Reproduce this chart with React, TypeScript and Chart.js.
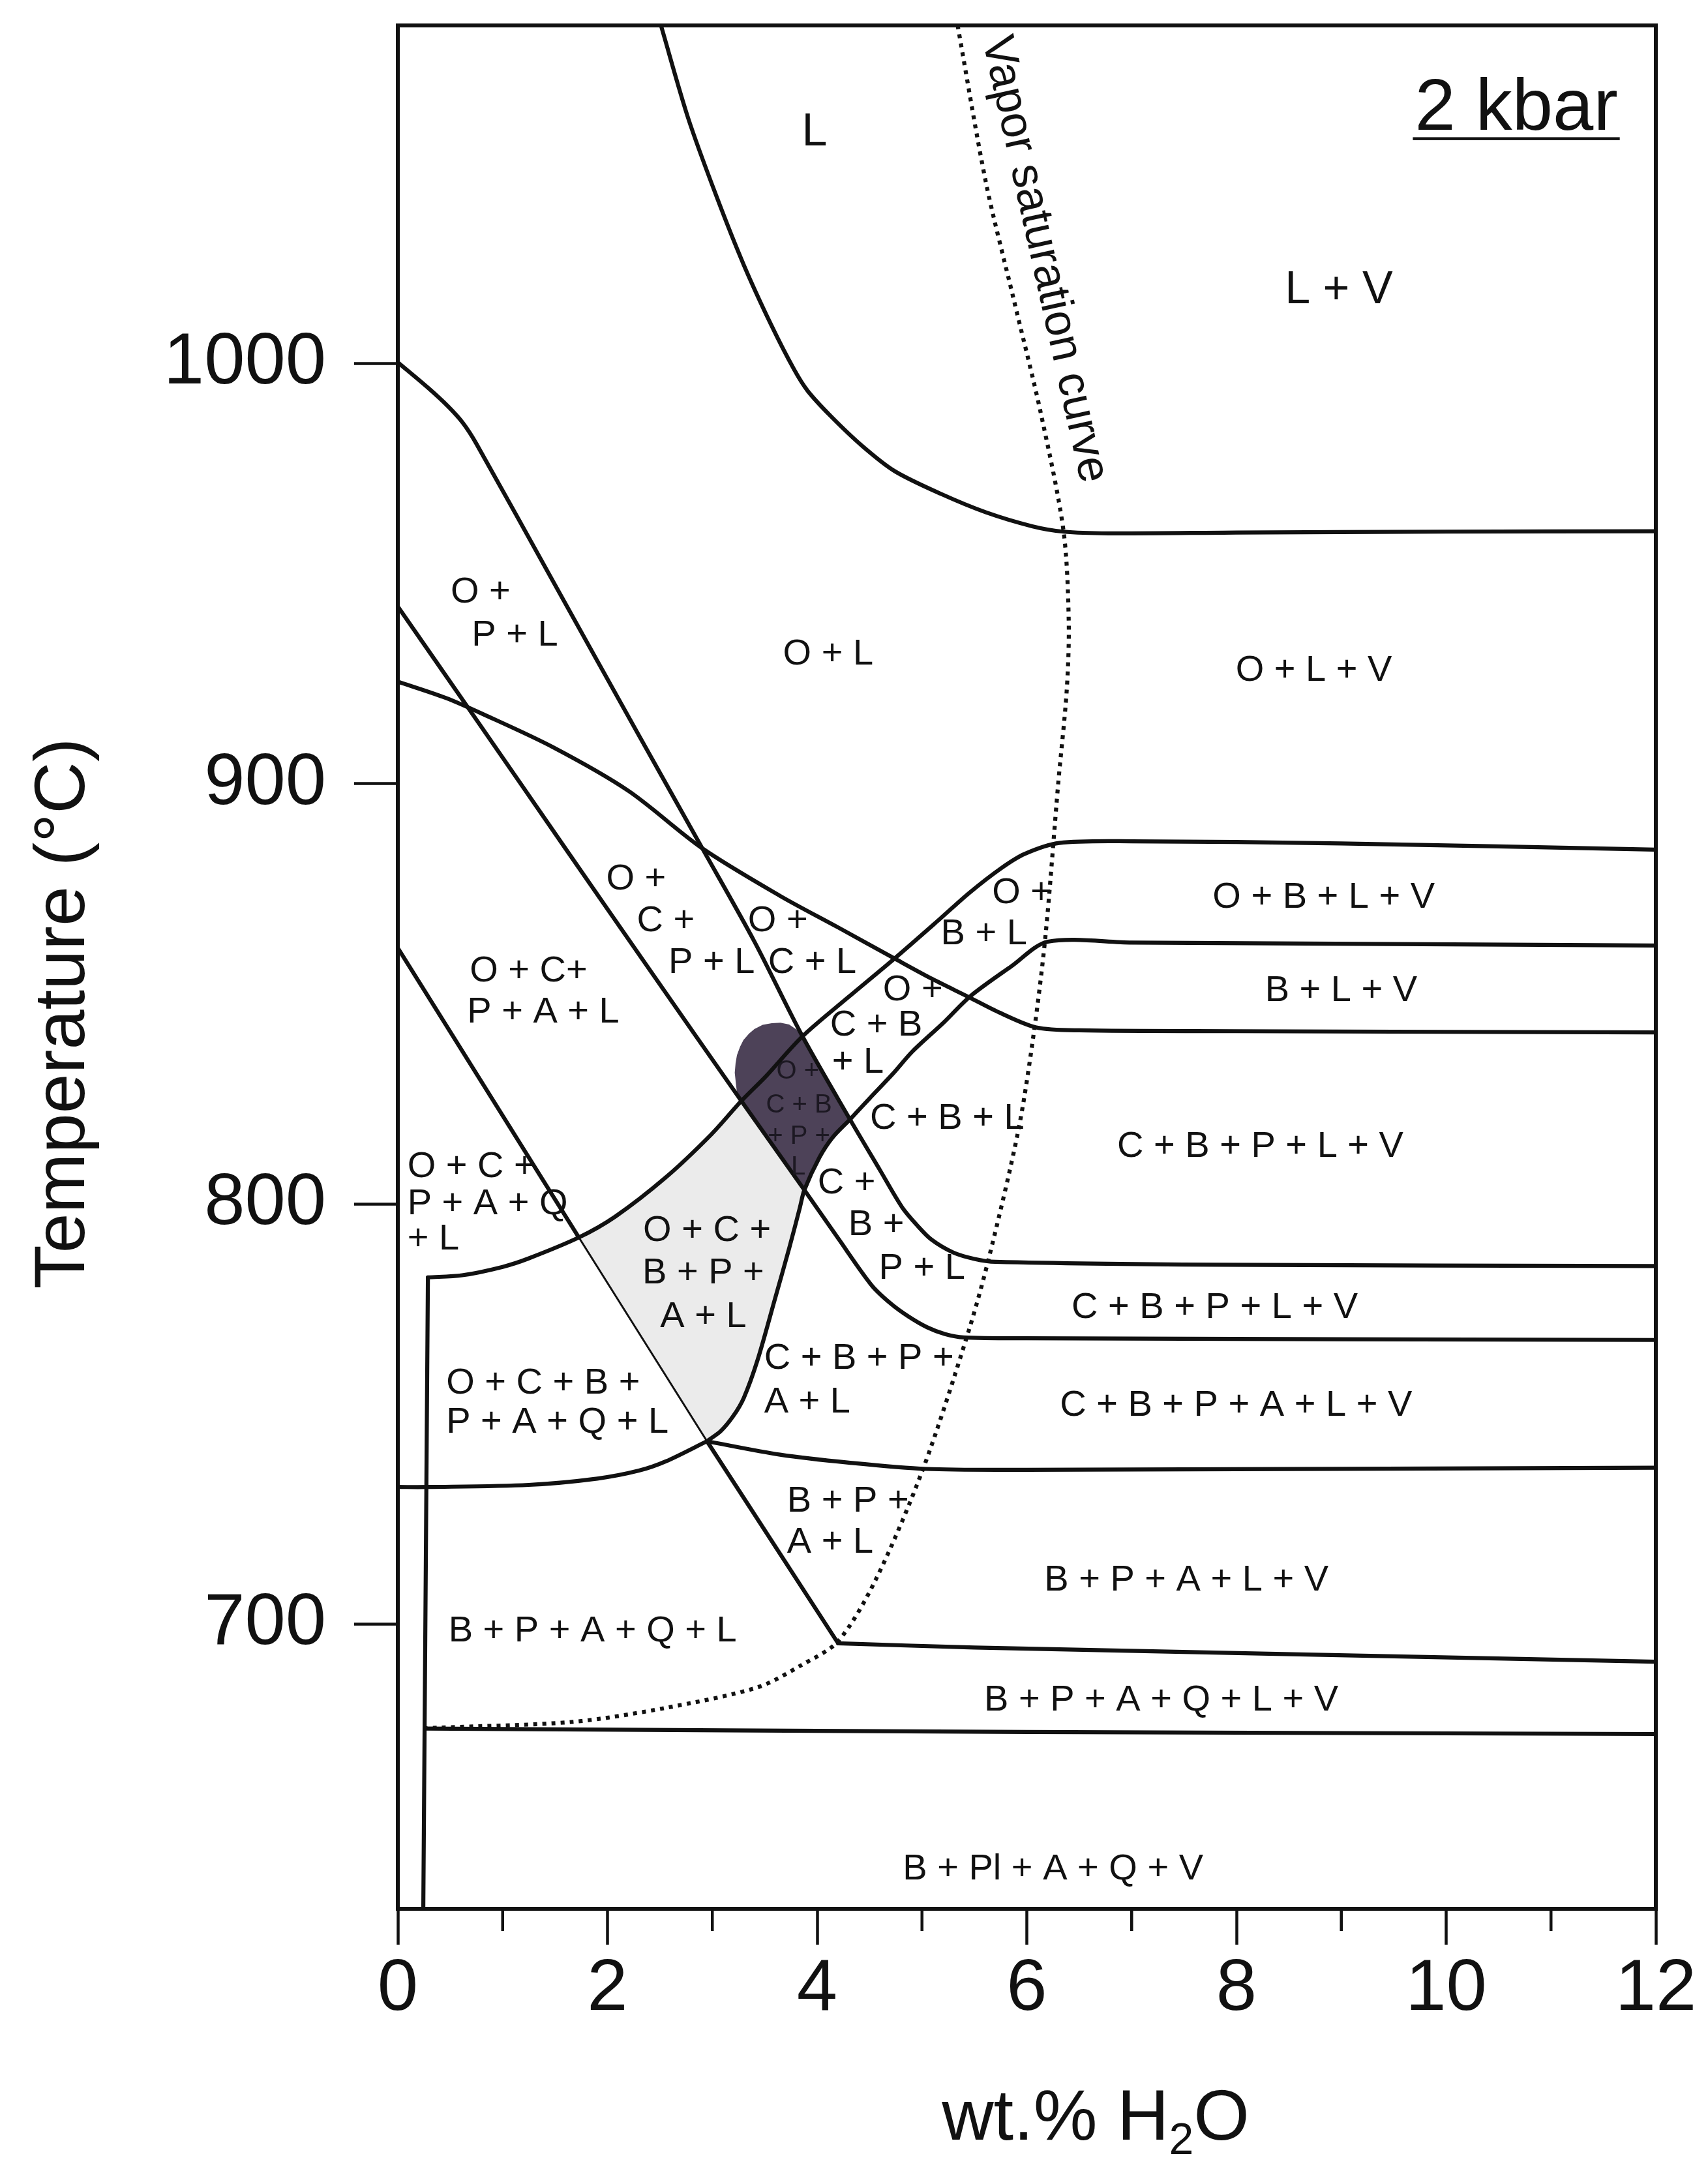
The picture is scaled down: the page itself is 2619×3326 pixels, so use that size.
import React, { useEffect, useRef } from 'react';
import { Chart, registerables } from 'chart.js';

Chart.register(...registerables);

type P = [number, number];

// ---------- axes ----------
const X_MIN = 0;
const X_MAX = 12;
const Y_MIN = 632.2;
const Y_MAX = 1080.5;
const X_TICKS = [0, 2, 4, 6, 8, 10, 12];
const X_MINOR_TICKS = [1, 3, 5, 7, 9, 11];
const Y_TICKS = [700, 800, 900, 1000];

// ---------- phase boundaries (wt.% H2O, °C) ----------
const LIQUIDUS: P[] = [[2.51, 1080.5], [2.77, 1058.4], [3.04, 1039.8], [3.30, 1023.5], [3.56, 1009.3], [3.78, 998.6], [3.91, 993.5], [4.13, 987.5], [4.43, 980.4], [4.74, 974.4], [5.18, 969.0], [5.61, 964.6], [6.05, 961.3], [6.35, 960.0], [6.78, 959.6], [8.0, 959.8], [10.0, 960.0], [12.0, 960.1]];
const VAPOR_SATURATION: P[] = [[5.34, 1080.5], [5.61, 1043.1], [5.87, 1015.8], [6.13, 988.6], [6.35, 960.2], [6.40, 938.4], [6.38, 922.0], [6.30, 900.2], [6.18, 864.3], [6.07, 841.3], [5.92, 817.6], [5.63, 786.3], [5.43, 768.5], [5.01, 736.9], [4.56, 710.6], [4.20, 695.9], [3.85, 690.2], [3.43, 684.9], [2.55, 680.0], [1.67, 676.7], [0.37, 675.3], [0.27, 675.2]];
const LINE_A: P[] = [[0, 1000.3], [0.29, 994.2], [0.48, 989.8], [0.62, 985.9], [0.75, 980.9], [1.5, 947.3], [2.3, 911.5], [2.905, 884.6], [3.4, 862.5], [3.857, 840.0], [4.313, 820.1], [4.6, 808.0], [4.81, 799.2], [4.95, 795.0], [5.09, 791.5], [5.3, 788.4], [5.5, 786.9], [5.7, 786.2], [7.8, 785.5], [12, 785.2]];
const LINE_B: P[] = [[0, 942.2], [0.72, 916.3], [1.596, 884.7], [2.4, 855.8], [3.277, 824.5], [3.878, 803.3], [4.2, 791.8], [4.52, 780.6], [4.7, 776.3], [4.87, 773.2], [5.05, 770.6], [5.22, 769.0], [5.4, 768.2], [6.0, 768.0], [12, 767.6]];
const LINE_C: P[] = [[0, 924.3], [0.46, 920.4], [0.81, 916.6], [1.48, 908.7], [2.2, 898.3], [2.9, 884.7], [3.647, 873.3], [4.2, 865.8], [4.738, 858.4], [5.1, 853.5], [5.44, 849.3], [5.742, 845.5], [6.09, 842.0], [6.5, 841.3], [8, 841.1], [12, 840.8]];
const LINE_D_UPPER: P[] = [[0, 860.9], [1.727, 792.0]];
const LINE_D_MIDDLE: P[] = [[1.727, 792.0], [2.949, 743.5]];
const LINE_D_LOWER: P[] = [[2.949, 743.5], [4.2, 695.4]];
const LINE_E: P[] = [[4.2, 695.4], [5.5, 694.4], [12, 691.0]];
const LINE_F: P[] = [[2.949, 743.5], [3.647, 740.3], [4.302, 738.4], [5.04, 736.9], [6.0, 736.7], [12, 737.2]];
const LINE_LOWER_LEFT: P[] = [[0, 732.6], [0.287, 732.6], [1.247, 733.1], [1.902, 734.6], [2.3, 736.5], [2.556, 738.7], [2.949, 743.5]];
const LINE_G: P[] = [[0.265, 675.1], [6, 674.3], [12, 673.8]];
const LINE_K: P[] = [[0.287, 782.5], [0.243, 632.2]];
const LINE_H: P[] = [[0.287, 782.5], [0.614, 783.0], [1.0, 785.0], [1.247, 787.0], [1.727, 792.0], [2.076, 797.0], [2.556, 806.3], [2.993, 816.6], [3.277, 824.5], [3.516, 830.5], [3.857, 839.8], [4.302, 849.3], [4.738, 858.4], [5.17, 867.8], [5.45, 874.0], [5.75, 879.8], [5.98, 883.3], [6.31, 885.9], [7, 886.3], [9, 885.8], [12, 884.3]];
const LINE_IJ: P[] = [[2.949, 743.5], [3.08, 745.9], [3.20, 749.5], [3.30, 753.8], [3.43, 762.7], [3.60, 777.6], [3.734, 789.5], [3.836, 799.2], [3.878, 803.3], [4.023, 811.1], [4.147, 815.8], [4.313, 820.1], [4.5, 825.1], [4.72, 830.9], [4.91, 836.3], [5.2, 843.0], [5.46, 849.4], [5.85, 856.5], [6.2, 862.4], [7, 862.2], [12, 861.5]];

// ---------- shaded fields ----------
const DARK_FIELD: P[] = [[3.277, 824.5], [3.235, 826.5], [3.225, 828.6], [3.214, 831.2], [3.222, 833.5], [3.235, 835.4], [3.265, 837.4], [3.297, 839.0], [3.35, 840.5], [3.401, 841.6], [3.48, 842.6], [3.567, 843.0], [3.65, 843.1], [3.733, 842.7], [3.826, 841.1], [3.857, 840.0], [4.085, 830.0], [4.313, 820.1], [4.23, 818.0], [4.147, 815.8], [4.023, 811.1], [3.95, 807.5], [3.878, 803.3], [3.58, 813.9]];
const GREY_FIELD: P[] = [[1.727, 792.0], [2.076, 797.0], [2.556, 806.3], [2.993, 816.6], [3.277, 824.5], [3.58, 813.9], [3.878, 803.3], [3.836, 799.2], [3.734, 789.5], [3.60, 777.6], [3.43, 762.7], [3.30, 753.8], [3.20, 749.5], [3.08, 745.9], [2.949, 743.5], [2.34, 767.7]];

// ---------- field labels: [text, wt.% H2O, °C] ----------
const LARGE_LABELS: [string, number, number][] = [
  ['L', 3.975, 1055.0],
  ['L + V', 8.976, 1017.3],
];
const FIELD_LABELS: [string, number, number][] = [
  ['O +', 0.789, 945.5],
  ['P + L', 1.116, 935.2],
  ['O + L', 4.105, 930.8],
  ['O + L + V', 8.737, 926.9],
  ['O +', 2.273, 877.2],
  ['C +', 2.556, 867.3],
  ['P + L', 2.993, 857.4],
  ['O +', 3.625, 867.3],
  ['C + L', 3.953, 857.4],
  ['O +', 5.954, 874.0],
  ['B + L', 5.591, 864.2],
  ['O + B + L + V', 8.832, 872.9],
  ['O + C+', 1.247, 855.4],
  ['P + A + L', 1.387, 845.5],
  ['O +', 4.913, 850.9],
  ['C + B', 4.564, 842.5],
  ['+ L', 4.389, 833.6],
  ['B + L + V', 8.998, 850.6],
  ['C + B + L', 5.24, 820.2],
  ['C + B + P + L + V', 8.227, 813.5],
  ['C +', 4.28, 804.9],
  ['B +', 4.564, 794.9],
  ['P + L', 5.0, 784.5],
  ['O + C +', 2.949, 793.5],
  ['B + P +', 2.914, 783.5],
  ['A + L', 2.914, 773.1],
  ['C + B + P + L + V', 7.792, 775.3],
  ['C + B + P + A + L + V', 7.995, 751.9],
  ['B + P + A + L + V', 7.522, 710.3],
  ['B + P + A + Q + L', 1.858, 698.3],
  ['B + P + A + Q + L + V', 7.282, 681.8],
  ['B + Pl + A + Q + V', 6.25, 641.6],
];
const LEFT_LABELS: [string, number, number][] = [
  ['O + C +', 0.091, 808.8],
  ['P + A + Q', 0.091, 799.9],
  ['+ L', 0.091, 791.5],
  ['C + B + P +', 3.494, 763.2],
  ['A + L', 3.494, 752.8],
  ['O + C + B +', 0.4615, 757.3],
  ['P + A + Q + L', 0.4615, 747.9],
  ['B + P +', 3.713, 729.1],
  ['A + L', 3.713, 719.3],
];
const DARK_LABELS: [string, number, number][] = [
  ['O +', 3.815, 831.5],
  ['C + B', 3.826, 823.5],
  ['+ P +', 3.826, 816.0],
  ['L', 3.82, 808.7],
];
const VAPOR_LABEL: [string, number, number] = ['Vapor saturation curve', 6.165, 1024.8];
const PRESSURE_LABEL: [string, number, number] = ['2 kbar', 10.669, 1055.6];
const Y_TITLE = 'Temperature (°C)';
const X_TITLE = ['wt.% H', '2', 'O'];

// ---------- styles ----------
const W = 2619;
const H = 3326;
const INK = '#111111';
const FONT = '"Liberation Sans", Arial, Helvetica, sans-serif';
const LINE_W = 6.2;

const toXY = (pts: P[]) => pts.map(([x, y]) => ({ x, y }));

const line = (label: string, pts: P[], opts: Record<string, unknown> = {}) => ({
  label,
  data: toXY(pts),
  showLine: true,
  borderColor: INK,
  backgroundColor: INK,
  borderWidth: LINE_W,
  pointRadius: 0,
  pointHoverRadius: 0,
  tension: 0.3,
  fill: false,
  borderCapStyle: 'round',
  borderJoinStyle: 'round',
  order: 1,
  ...opts,
});

const area = (label: string, pts: P[], color: string) => ({
  label,
  data: toXY(pts),
  showLine: true,
  borderWidth: 0,
  borderColor: 'rgba(0,0,0,0)',
  backgroundColor: color,
  pointRadius: 0,
  pointHoverRadius: 0,
  tension: 0,
  fill: 'shape',
  order: 5,
});

const overlayPlugin = {
  id: 'phaseOverlay',
  beforeDraw(chart: any) {
    const { ctx } = chart;
    ctx.save();
    ctx.fillStyle = '#ffffff';
    ctx.fillRect(0, 0, chart.width, chart.height);
    ctx.restore();
  },
  afterDatasetsDraw(chart: any) {
    const { ctx, chartArea: a, scales } = chart;
    const px = (v: number) => scales.x.getPixelForValue(v);
    const py = (v: number) => scales.y.getPixelForValue(v);
    ctx.save();
    // frame
    ctx.strokeStyle = INK;
    ctx.lineWidth = 6;
    ctx.strokeRect(a.left, a.top, a.right - a.left, a.bottom - a.top);
    // minor x ticks
    ctx.lineWidth = 4.5;
    ctx.beginPath();
    for (const v of X_MINOR_TICKS) {
      const xx = px(v);
      ctx.moveTo(xx, a.bottom);
      ctx.lineTo(xx, a.bottom + 34);
    }
    ctx.stroke();

    // field labels
    ctx.fillStyle = INK;
    ctx.textBaseline = 'middle';
    ctx.textAlign = 'center';
    ctx.font = `70px ${FONT}`;
    for (const [t, vx, vy] of LARGE_LABELS) ctx.fillText(t, px(vx), py(vy));
    ctx.font = `56px ${FONT}`;
    for (const [t, vx, vy] of FIELD_LABELS) ctx.fillText(t, px(vx), py(vy));
    ctx.textAlign = 'left';
    for (const [t, vx, vy] of LEFT_LABELS) ctx.fillText(t, px(vx), py(vy));
    ctx.textAlign = 'center';
    ctx.font = `40px ${FONT}`;
    ctx.fillStyle = '#1c1822';
    for (const [t, vx, vy] of DARK_LABELS) ctx.fillText(t, px(vx), py(vy));
    ctx.fillStyle = INK;

    // vapor saturation label
    ctx.save();
    ctx.translate(px(VAPOR_LABEL[1]), py(VAPOR_LABEL[2]));
    ctx.rotate((77.5 * Math.PI) / 180);
    ctx.font = `70px ${FONT}`;
    ctx.textAlign = 'center';
    ctx.fillText(VAPOR_LABEL[0], 0, 0);
    ctx.restore();

    // pressure label, underlined
    ctx.font = `112px ${FONT}`;
    ctx.textAlign = 'center';
    ctx.textBaseline = 'alphabetic';
    const kx = px(PRESSURE_LABEL[1]);
    const ky = py(PRESSURE_LABEL[2]);
    ctx.fillText(PRESSURE_LABEL[0], kx, ky);
    const kw = ctx.measureText(PRESSURE_LABEL[0]).width;
    ctx.fillRect(kx - kw / 2 - 3, ky + 11, kw + 6, 4.5);

    // y title
    ctx.save();
    ctx.translate(129, 1554);
    ctx.rotate(-Math.PI / 2);
    ctx.font = `110px ${FONT}`;
    ctx.textAlign = 'center';
    ctx.textBaseline = 'alphabetic';
    ctx.fillText(Y_TITLE, 0, 0);
    ctx.restore();

    // x title with subscript
    ctx.textAlign = 'left';
    ctx.textBaseline = 'alphabetic';
    const big = `110px ${FONT}`;
    const small = `68px ${FONT}`;
    ctx.font = big;
    const w1 = ctx.measureText(X_TITLE[0]).width;
    const w3 = ctx.measureText(X_TITLE[2]).width;
    ctx.font = small;
    const w2 = ctx.measureText(X_TITLE[1]).width;
    const total = w1 + w2 + w3;
    let sx = 1680 - total / 2;
    const base = 3281;
    ctx.font = big;
    ctx.fillText(X_TITLE[0], sx, base);
    sx += w1;
    ctx.font = small;
    ctx.fillText(X_TITLE[1], sx, base + 22);
    sx += w2;
    ctx.font = big;
    ctx.fillText(X_TITLE[2], sx, base);
    ctx.restore();
  },
};

export default function App() {
  const ref = useRef<HTMLCanvasElement>(null);

  useEffect(() => {
    const canvas = ref.current;
    if (!canvas) return;
    const datasets: any[] = [
      line('Liquidus', LIQUIDUS),
      line('Vapor saturation curve', VAPOR_SATURATION, { borderDash: [6, 8], borderCapStyle: 'butt', borderWidth: 6.2 }),
      line('A', LINE_A),
      line('B', LINE_B),
      line('C', LINE_C),
      line('D upper', LINE_D_UPPER, { tension: 0 }),
      line('D middle', LINE_D_MIDDLE, { tension: 0, borderWidth: 3 }),
      line('D lower', LINE_D_LOWER, { tension: 0 }),
      line('E', LINE_E),
      line('F', LINE_F),
      line('Lower left', LINE_LOWER_LEFT),
      line('G', LINE_G, { tension: 0.2 }),
      line('K', LINE_K, { tension: 0 }),
      line('H', LINE_H),
      line('IJ', LINE_IJ),
      area('Dark field', DARK_FIELD, '#4d4258'),
      area('Grey field', GREY_FIELD, '#ebebeb'),
    ];

    const tickFont = { family: FONT, size: 112 };
    const chart = new Chart(canvas, {
      type: 'scatter',
      data: { datasets },
      plugins: [overlayPlugin],
      options: {
        animation: false,
        responsive: false,
        maintainAspectRatio: false,
        devicePixelRatio: 1,
        events: [],
        layout: { padding: { left: 0, top: 39, right: 80, bottom: 0 } },
        plugins: {
          legend: { display: false },
          tooltip: { enabled: false },
          title: { display: false },
        },
        scales: {
          x: {
            type: 'linear',
            min: X_MIN,
            max: X_MAX,
            border: { display: false },
            grid: { display: true, drawOnChartArea: false, drawTicks: true, tickLength: 55, tickWidth: 4.5, tickColor: INK },
            ticks: { font: tickFont, color: INK, padding: 2, maxRotation: 0, autoSkip: false, callback: (v: any) => String(v) },
            afterBuildTicks: (s: any) => { s.ticks = X_TICKS.map((value) => ({ value })); },
            afterFit: (s: any) => { s.height = H - 2927; s.paddingLeft = 0; s.paddingRight = 0; },
          },
          y: {
            type: 'linear',
            min: Y_MIN,
            max: Y_MAX,
            border: { display: false },
            grid: { display: true, drawOnChartArea: false, drawTicks: true, tickLength: 67, tickWidth: 4.5, tickColor: INK },
            ticks: { font: tickFont, color: INK, padding: 43, autoSkip: false, callback: (v: any) => String(v) },
            afterBuildTicks: (s: any) => { s.ticks = Y_TICKS.map((value) => ({ value })); },
            afterFit: (s: any) => { s.width = 610; s.paddingTop = 0; s.paddingBottom = 0; },
          },
        },
      } as any,
    });
    return () => chart.destroy();
  }, []);

  return (
    <div style={{ position: 'absolute', left: 0, top: 0, width: W, height: H, background: '#ffffff' }}>
      <canvas ref={ref} width={W} height={H} style={{ display: 'block', width: W, height: H }} />
    </div>
  );
}
